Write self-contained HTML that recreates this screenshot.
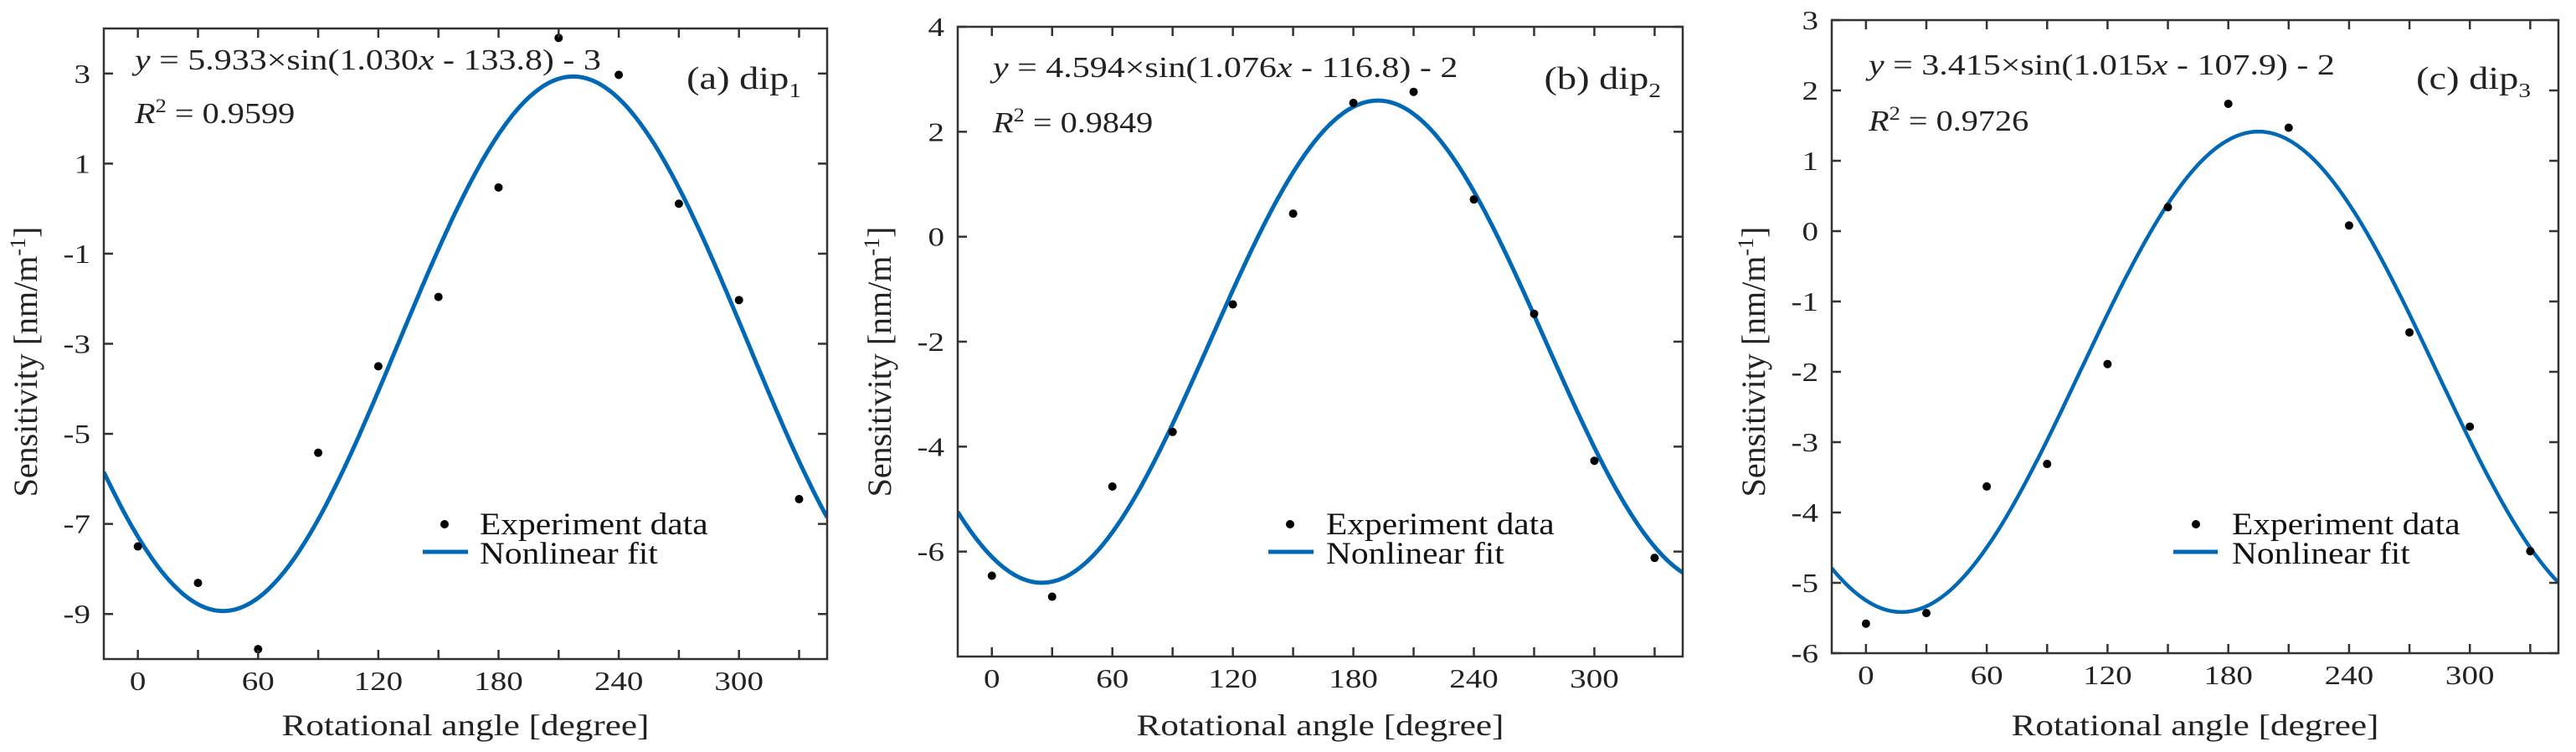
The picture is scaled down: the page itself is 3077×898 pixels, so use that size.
<!DOCTYPE html>
<html><head><meta charset="utf-8">
<style>
html,body{margin:0;padding:0;background:#fff;}
svg{display:block;font-family:"Liberation Serif","DejaVu Serif",serif;}
</style></head>
<body>
<svg id="chart" width="3077" height="898" viewBox="0 0 3077 898" xmlns="http://www.w3.org/2000/svg"></svg>
<script>
// Data (rotational angle in degrees)
const angles = [0,30,60,90,120,150,180,210,240,270,300,330];
const dip1Values = [-7.5,-8.31,-9.78,-5.42,-3.5,-1.96,0.47,3.79,2.97,0.11,-2.03,-6.45];
const dip2Values = [-6.46,-6.86,-4.76,-3.72,-1.29,0.44,2.55,2.76,0.71,-1.47,-4.27,-6.12];
const dip3Values = [-5.58,-5.43,-3.63,-3.31,-1.89,0.34,1.81,1.47,0.08,-1.44,-2.78,-4.55];
const fitA = [5.933,1.030,133.8,-3];
const fitB = [4.594,1.076,116.8,-2];
const fitC = [3.415,1.015,107.9,-2];
const xTickLabels = [0,60,120,180,240,300];
const yTicksA = [3,1,-1,-3,-5,-7,-9];
const yTicksB = [4,2,0,-2,-4,-6];
const yTicksC = [3,2,1,0,-1,-2,-3,-4,-5,-6];

const NS = "http://www.w3.org/2000/svg";
const svg = document.getElementById('chart');
function mk(tag, attrs, parent){
  const e = document.createElementNS(NS, tag);
  for (const k in attrs) e.setAttribute(k, attrs[k]);
  (parent||svg).appendChild(e);
  return e;
}
function txt(parent, x, y, size, sx, anchor, extra){
  const t = mk('text', {x:0, y:0, 'font-size':size, fill:'#222', 'text-anchor':anchor||'start',
    transform:'translate(' + x + ' ' + y + ')' + (extra||'') + ' scale(' + sx + ' 1)'}, parent);
  return t;
}

const panels = [
  {key:'a', box:[124,34,988,787], y:[-10,4], yMinor:[3,1,-1,-3,-5,-7,-9], yTicks:yTicksA, vals:dip1Values, fit:fitA,
   eq:'5.933×sin(1.030', eqTail:' - 133.8) - 3', r2:'0.9599', sub:'1', tag:'(a) dip',
   eqPos:[161,83], r2Pos:[161,147], tagPos:[957,106], leg:[531,626,573,505,559,659], lw:5},
  {key:'b', box:[1144,32,2010,784], y:[-8,4], yMinor:[4,2,0,-2,-4,-6], yTicks:yTicksB, vals:dip2Values, fit:fitB,
   eq:'4.594×sin(1.076', eqTail:' - 116.8) - 2', r2:'0.9849', sub:'2', tag:'(b) dip',
   eqPos:[1186,92], r2Pos:[1186,158], tagPos:[1984,106], leg:[1541,626,1584,1515,1569,659], lw:5},
  {key:'c', box:[2188,24,3056,780], y:[-6,3], yMinor:[3,2,1,0,-1,-2,-3,-4,-5,-6], yTicks:yTicksC, vals:dip3Values, fit:fitC,
   eq:'3.415×sin(1.015', eqTail:' - 107.9) - 2', r2:'0.9726', sub:'3', tag:'(c) dip',
   eqPos:[2232,89], r2Pos:[2232,156], tagPos:[3023,106], leg:[2623,626,2666,2596,2649,659], lw:4.5}
];
const X0 = -17, X1 = 344;

panels.forEach(p => {
  const [L,T,R,B] = p.box;
  const g = mk('g', {});
  
  
  const sx = v => L + (v - X0) / (X1 - X0) * (R - L);
  const sy = v => B - (v - p.y[0]) / (p.y[1] - p.y[0]) * (B - T);

  const clipId = 'clip' + p.key;
  const cp = mk('clipPath', {id: clipId}, g);
  mk('rect', {x:L, y:T, width:R-L, height:B-T}, cp);

  let d = '';
  for (let x = X0; x <= X1; x += 0.5) {
    const yv = p.fit[0] * Math.sin((p.fit[1]*x - p.fit[2]) * Math.PI/180) + p.fit[3];
    d += (d ? 'L' : 'M') + sx(x).toFixed(1) + ',' + sy(yv).toFixed(1);
  }
  const curve = mk('path', {d:d, fill:'none', stroke:'#0068b5', 'stroke-width':p.lw, 'clip-path':'url(#'+clipId+')'}, g);
  
  

  angles.forEach((a, i) => {
    const c = mk('circle', {cx:sx(a), cy:sy(p.vals[i]), r:5, fill:'#000'}, g);
    
    
  });

  const box = mk('rect', {x:L, y:T, width:R-L, height:B-T, fill:'none', stroke:'#333', 'stroke-width':2.5}, g);
  
  

  angles.forEach(a => {
    mk('line', {x1:sx(a), x2:sx(a), y1:B, y2:B-11, stroke:'#333', 'stroke-width':2.5}, g);
    mk('line', {x1:sx(a), x2:sx(a), y1:T, y2:T+11, stroke:'#333', 'stroke-width':2.5}, g);
  });
  xTickLabels.forEach(a => {
    const t = txt(g, sx(a), B+37, 32, 1.22, 'middle');
    t.textContent = a;
    
    
  });
  p.yMinor.forEach(v => {
    mk('line', {x1:L, x2:L+11, y1:sy(v), y2:sy(v), stroke:'#333', 'stroke-width':2.5}, g);
    mk('line', {x1:R, x2:R-11, y1:sy(v), y2:sy(v), stroke:'#333', 'stroke-width':2.5}, g);
  });
  p.yTicks.forEach(v => {
    const t = txt(g, L-16, sy(v)+11, 32, 1.22, 'end');
    t.textContent = v;
    
    
  });

  const xt = txt(g, (L+R)/2, 878, 36, 1.2, 'middle');
  xt.textContent = 'Rotational angle [degree]';
  
  
  const yt = txt(g, L-80, 432, 40, 1, 'middle', ' rotate(-90)');
  yt.innerHTML = 'Sensitivity [nm/m<tspan dy="-14" font-size="26">-1</tspan><tspan dy="14">]</tspan>';
  
  

  const eq = txt(g, p.eqPos[0], p.eqPos[1], 35, 1.2, 'start');
  eq.innerHTML = '<tspan font-style="italic">y</tspan> = ' + p.eq + '<tspan font-style="italic">x</tspan>' + p.eqTail;
  
  
  const r2 = txt(g, p.r2Pos[0], p.r2Pos[1], 35, 1.15, 'start');
  r2.innerHTML = '<tspan font-style="italic">R</tspan><tspan dy="-13" font-size="23">2</tspan><tspan dy="13"> = ' + p.r2 + '</tspan>';
  
  
  const tg = txt(g, p.tagPos[0], p.tagPos[1], 38, 1.22, 'end');
  tg.innerHTML = p.tag + '<tspan dy="10" font-size="24">' + p.sub + '</tspan>';
  
  

  const lg = mk('g', {}, g);
  
  
  const [mx,my,tx,lx1,lx2,ly] = p.leg;
  mk('circle', {cx:mx, cy:my, r:5, fill:'#000'}, lg);
  const t1 = txt(lg, tx, my+12, 37, 1.12, 'start');
  t1.setAttribute('fill', '#111');
  t1.textContent = 'Experiment data';
  
  
  mk('line', {x1:lx1, x2:lx2, y1:ly, y2:ly, stroke:'#0068b5', 'stroke-width':5}, lg);
  const t2 = txt(lg, tx, ly+14, 37, 1.12, 'start');
  t2.setAttribute('fill', '#111');
  t2.textContent = 'Nonlinear fit';
  
  
});
</script>
</body></html>
